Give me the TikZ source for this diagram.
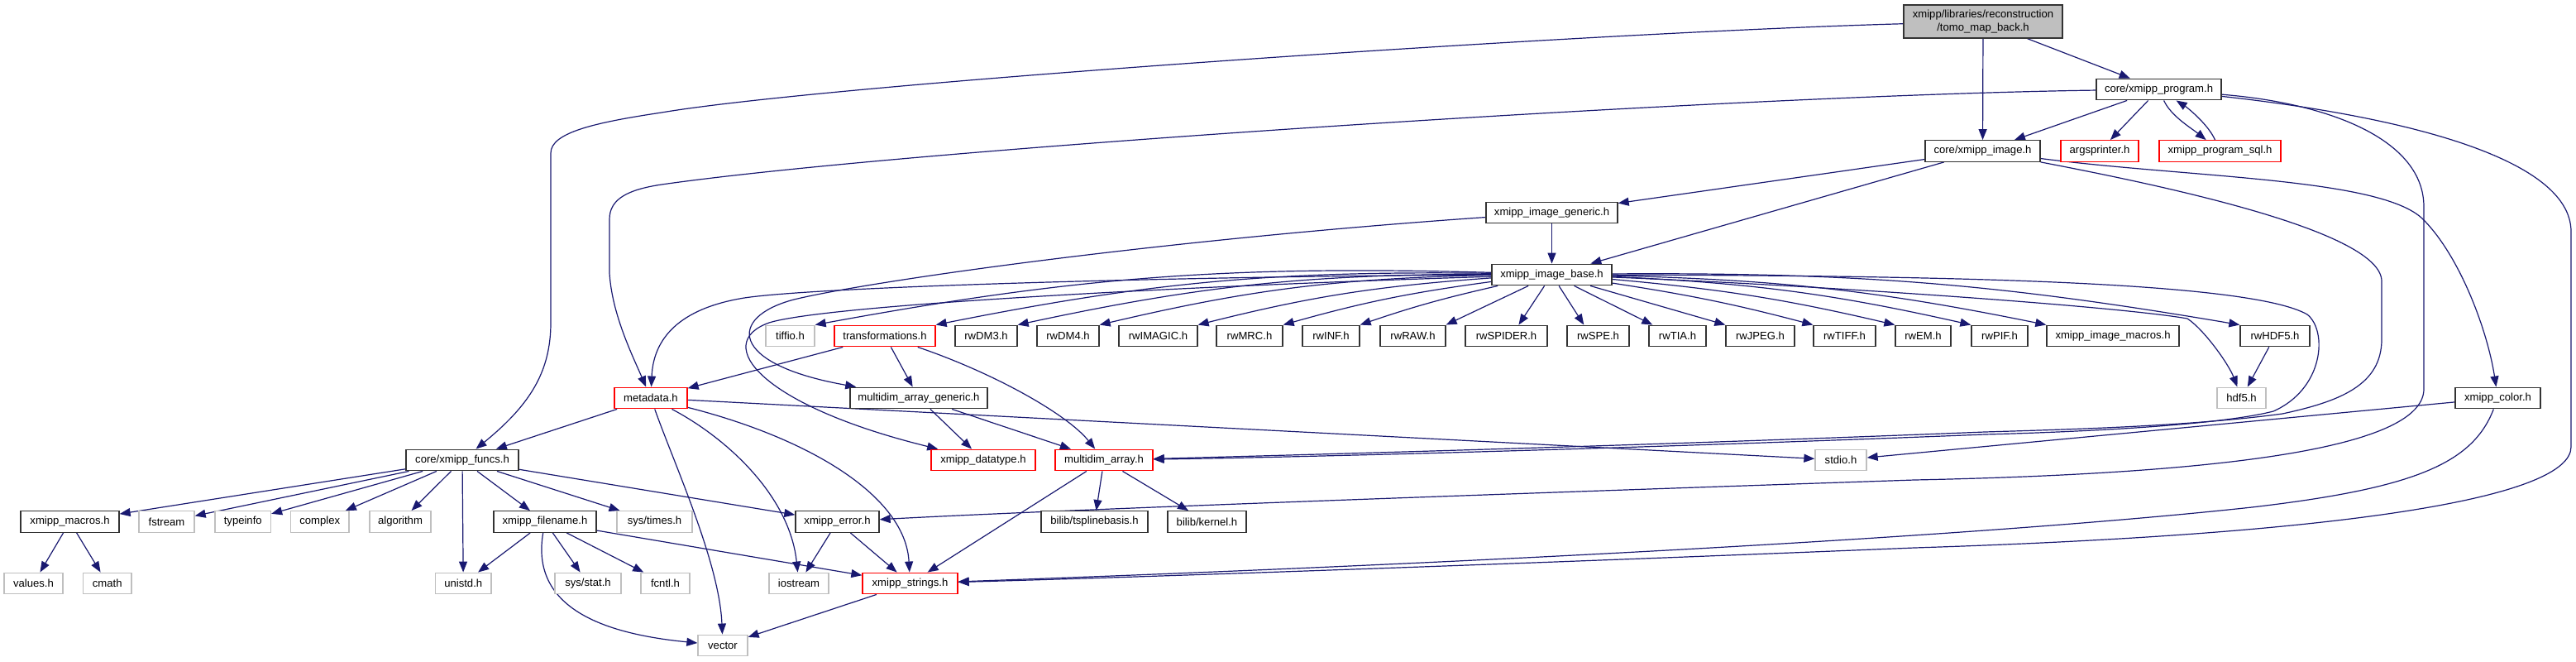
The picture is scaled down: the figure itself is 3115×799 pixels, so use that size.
\documentclass[tikz,border=0pt]{standalone}
\usepackage{fontspec}
\setmainfont{Liberation Sans}
\usetikzlibrary{arrows.meta}
\definecolor{edgec}{HTML}{191970}
\definecolor{grayb}{HTML}{BFBFBF}
\definecolor{redb}{HTML}{FF0000}
\definecolor{darkb}{HTML}{333333}
\newcommand\fsz{\fontsize{6.55}{7.8}\selectfont}
\pgfdeclarelayer{bg}
\pgfsetlayers{bg,main}
\tikzset{
  box/.style={draw=darkb, line width=0.65pt, fill=white, minimum height=12.8pt, inner sep=0pt, font=\fsz},
  rd/.style={box, draw=redb},
  gy/.style={box, draw=grayb},
  e/.style={draw=edgec, line width=0.6pt, -{Triangle[length=6.5pt,width=5pt]}},
}
\begin{document}
\begin{tikzpicture}[x=0.5pt,y=-0.5pt]
\useasboundingbox (0,0) rectangle (3115,799);
% nodes
\node[box, fill=grayb, minimum width=96pt, minimum height=20pt, align=center] (root) at (2398,26) {xmipp/libraries/reconstruction\\/tomo\_map\_back.h};
\node[box, minimum width=75.5pt] (prog) at (2610.5,108) {core/xmipp\_program.h};
\node[box, minimum width=69.5pt] (img) at (2397.5,182.5) {core/xmipp\_image.h};
\node[rd, minimum width=47pt] (args) at (2539,182.5) {argsprinter.h};
\node[rd, minimum width=73.5pt] (sql) at (2684.5,182.5) {xmipp\_program\_sql.h};
\node[box, minimum width=79.5pt] (gen) at (1876.5,257) {xmipp\_image\_generic.h};
\node[box, minimum width=72.5pt] (base) at (1876.5,332) {xmipp\_image\_base.h};
% row 5
\node[gy, minimum width=29.5pt] (tiffio) at (955.5,406) {tiffio.h};
\node[rd, minimum width=61pt] (trans) at (1070,406) {transformations.h};
\node[box, minimum width=37.5pt] (dm3) at (1192.5,406) {rwDM3.h};
\node[box, minimum width=37.5pt] (dm4) at (1291.5,406) {rwDM4.h};
\node[box, minimum width=47.5pt] (imagic) at (1400.5,406) {rwIMAGIC.h};
\node[box, minimum width=40pt] (mrc) at (1511,406) {rwMRC.h};
\node[box, minimum width=34.5pt] (inf) at (1609.5,406) {rwINF.h};
\node[box, minimum width=39.5pt] (raw) at (1708.5,406) {rwRAW.h};
\node[box, minimum width=49.5pt] (spider) at (1821.5,406) {rwSPIDER.h};
\node[box, minimum width=37.5pt] (spe) at (1932.5,406) {rwSPE.h};
\node[box, minimum width=34.5pt] (tia) at (2028.5,406) {rwTIA.h};
\node[box, minimum width=41.5pt] (jpeg) at (2128.5,406) {rwJPEG.h};
\node[box, minimum width=37.5pt] (tiff) at (2230.5,406) {rwTIFF.h};
\node[box, minimum width=33.5pt] (em) at (2325.5,406) {rwEM.h};
\node[box, minimum width=34pt] (pif) at (2418,406) {rwPIF.h};
\node[box, minimum width=80pt] (imacros) at (2555,406) {xmipp\_image\_macros.h};
\node[box, minimum width=42pt] (rwhdf) at (2751,406) {rwHDF5.h};
% row 6
\node[rd, minimum width=44pt] (meta) at (787,481) {metadata.h};
\node[box, minimum width=83pt] (mag) at (1111,481) {multidim\_array\_generic.h};
\node[gy, minimum width=29.5pt] (hdf5) at (2710.5,481) {hdf5.h};
\node[box, minimum width=51.5pt] (color) at (3020.5,481) {xmipp\_color.h};
% row 7
\node[box, minimum width=68pt] (funcs) at (559,556) {core/xmipp\_funcs.h};
\node[rd, minimum width=63pt] (dtype) at (1189,556) {xmipp\_datatype.h};
\node[rd, minimum width=59pt] (mda) at (1335,556) {multidim\_array.h};
\node[gy, minimum width=31pt] (stdio) at (2226,556) {stdio.h};
% row 8
\node[box, minimum width=59.5pt] (xmacros) at (84.5,630.5) {xmipp\_macros.h};
\node[gy, minimum width=33.5pt] (fstream) at (201.5,630.5) {fstream};
\node[gy, minimum width=33.75pt] (typeinfo) at (293.75,630.5) {typeinfo};
\node[gy, minimum width=35.25pt] (complex) at (386.75,630.5) {complex};
\node[gy, minimum width=37pt] (algorithm) at (484,630.5) {algorithm};
\node[box, minimum width=62pt] (fname) at (659,630.5) {xmipp\_filename.h};
\node[gy, minimum width=45.5pt] (times) at (791.5,630.5) {sys/times.h};
\node[box, minimum width=50.5pt] (err) at (1012.5,630.5) {xmipp\_error.h};
\node[box, minimum width=64.5pt] (tspline) at (1323.5,630.5) {bilib/tsplinebasis.h};
\node[box, minimum width=47.5pt] (kernel) at (1459.5,630.5) {bilib/kernel.h};
% row 9
\node[gy, minimum width=35.5pt] (values) at (40.5,705) {values.h};
\node[gy, minimum width=29.25pt] (cmath) at (129.75,705) {cmath};
\node[gy, minimum width=33.75pt] (unistd) at (560.25,705) {unistd.h};
\node[gy, minimum width=40pt] (stat) at (711,705) {sys/stat.h};
\node[gy, minimum width=29.5pt] (fcntl) at (804.5,705) {fcntl.h};
\node[gy, minimum width=36pt] (iostream) at (966,705) {iostream};
\node[rd, minimum width=57.5pt] (strings) at (1100.5,705) {xmipp\_strings.h};
% row 10
\node[gy, minimum width=30pt] (vector) at (874,780) {vector};

\begin{pgfonlayer}{bg}
% root
\draw[e] (root) -- (prog);
\draw[e] (root) -- (img);
\draw[e] (root) .. controls (1900,40) and (1000,102) .. (800,136) .. controls (720,148) and (666,160) .. (666,185) -- (666,390) .. controls (666,450) and (640,490) .. (funcs);
% program
\draw[e] (prog) -- (img);
\draw[e] (prog) -- (args);
\draw[e] (prog) .. controls (2625,140) and (2650,155) .. (sql);
\draw[e] (sql) .. controls (2670,150) and (2645,130) .. (prog);
\draw[e] (prog) .. controls (2100,115) and (1100,180) .. (800,223) .. controls (760,229) and (737,240) .. (737,265) -- (737,330) .. controls (740,380) and (765,430) .. (meta);
\draw[e] (prog) .. controls (2820,125) and (2931,170) .. (2931,250) -- (2931,470) .. controls (2931,540) and (2700,572) .. (2315,580) .. controls (1900,594) and (1300,615) .. (err);
\draw[e] (prog) .. controls (2900,140) and (3109,190) .. (3109,280) -- (3109,540) .. controls (3109,600) and (2850,645) .. (2315,662) .. controls (1900,679) and (1400,697) .. (strings);
% image
\draw[e] (img) -- (gen);
\draw[e] (img) -- (base);
\draw[e] (img) .. controls (2620,225) and (2880,280) .. (2880,340) -- (2880,410) .. controls (2880,465) and (2830,485) .. (2760,500) .. controls (2650,515) and (2500,519) .. (2400,522) .. controls (2000,538) and (1600,549) .. (mda);
\draw[e] (img) .. controls (2650,215) and (2880,215) .. (2930,265) .. controls (2975,310) and (3008,400) .. (color);
% generic
\draw[e] (gen) -- (base);
\draw[e] (gen) .. controls (1400,290) and (1050,340) .. (960,362) .. controls (880,383) and (880,440) .. (mag);
% base
\draw[e] (base) .. controls (1500,333) and (1000,345) .. (900,360) .. controls (820,373) and (790,410) .. (meta);
\draw[e] (base) .. controls (1450,345) and (1000,368) .. (930,390) .. controls (860,415) and (920,490) .. (dtype);
\draw[e] (base) to[bend right=6] (tiffio.north east);
\draw[e] (base) to[bend right=6] (trans.north east);
\draw[e] (base) to[bend right=6] (dm3.north east);
\draw[e] (base) to[bend right=6] (dm4.north east);
\draw[e] (base) to[bend right=5] (imagic.north east);
\draw[e] (base) to[bend right=4] (mrc.north east);
\draw[e] (base) to[bend right=3] (inf.north east);
\draw[e] (base) -- (raw.north east);
\draw[e] (base) -- (spider.42);
\draw[e] (base) -- (spe.142);
\draw[e] (base) -- (tia.156);
\draw[e] (base) -- (jpeg.north west);
\draw[e] (base) to[bend left=3] (tiff.north west);
\draw[e] (base) to[bend left=4] (em.north west);
\draw[e] (base) to[bend left=5] (pif.north west);
\draw[e] (base) to[bend left=5] (imacros.north west);
\draw[e] (base) to[bend left=5] (rwhdf.north west);
\draw[e] (base) .. controls (2200,345) and (2560,370) .. (2645,385) .. controls (2665,398) and (2695,440) .. (hdf5);
\draw[e] (base) .. controls (2350,333) and (2720,340) .. (2790,380) .. controls (2815,400) and (2810,470) .. (2749,497) .. controls (2690,512) and (2550,521) .. (2400,525) .. controls (2000,541) and (1600,552) .. (mda);
% transformations
\draw[e] (trans) -- (meta);
\draw[e] (trans) -- (mag);
\draw[e] (trans) .. controls (1200,450) and (1290,500) .. (mda);
% multidim generic
\draw[e] (mag) -- (dtype);
\draw[e] (mag) -- (mda);
% multidim
\draw[e] (mda) -- (strings);
\draw[e] (mda) -- (tspline);
\draw[e] (mda) -- (kernel);
% metadata
\draw[e] (meta) -- (funcs);
\draw[e] (meta) -- (stdio);
\draw[e] (meta) .. controls (815,560) and (870,680) .. (vector);
\draw[e] (meta) .. controls (880,530) and (955,600) .. (iostream);
\draw[e] (meta) .. controls (980,530) and (1095,600) .. (strings);
% funcs
\draw[e] (funcs) -- (xmacros);
\draw[e] (funcs) -- (fstream);
\draw[e] (funcs) -- (typeinfo);
\draw[e] (funcs) -- (complex);
\draw[e] (funcs) -- (algorithm);
\draw[e] (funcs) -- (unistd);
\draw[e] (funcs) -- (fname);
\draw[e] (funcs) -- (times);
\draw[e] (funcs) -- (err);
% filename
\draw[e] (fname) -- (unistd);
\draw[e] (fname) -- (stat);
\draw[e] (fname) -- (fcntl);
\draw[e] (fname) -- (strings);
\draw[e] (fname) .. controls (642,730) and (720,765) .. (vector);
% macros
\draw[e] (xmacros) -- (values);
\draw[e] (xmacros) -- (cmath);
% error, strings
\draw[e] (err) -- (iostream);
\draw[e] (err) -- (strings);
\draw[e] (strings) -- (vector);
% color
\draw[e] (color) -- (stdio);
\draw[e] (color) .. controls (2990,560) and (2920,590) .. (2723,613) .. controls (2400,648) and (1800,680) .. (strings);
% hdf5
\draw[e] (rwhdf) -- (hdf5);
\end{pgfonlayer}
\end{tikzpicture}
\end{document}
